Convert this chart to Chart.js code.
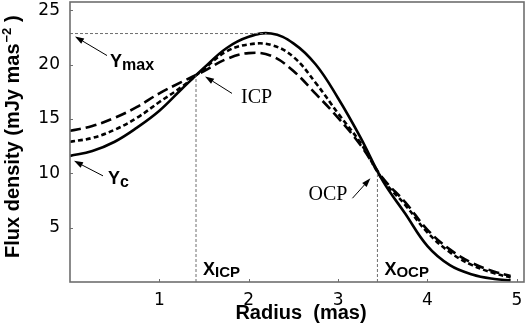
<!DOCTYPE html>
<html><head><meta charset="utf-8">
<script src="https://cdn.jsdelivr.net/npm/chart.js@4"></script>
<style>html,body{margin:0;padding:0;background:#fff;}</style>
</head><body>
<canvas id="c" width="526" height="332"></canvas>
<script>
// ---- data ----
const radius        = [0, 0.25, 0.5, 0.75, 1.0, 1.25, 1.5, 1.75, 2.0, 2.25, 2.5, 2.75, 3.0, 3.25, 3.5, 3.75, 4.0, 4.25, 4.5, 4.75, 4.93];
const fluxSolid     = [11.6, 12.05, 12.9, 14.2, 15.75, 17.75, 19.7, 21.5, 22.55, 22.85, 21.95, 20.0, 16.9, 13.3, 9.3, 6.3, 3.3, 1.55, 0.7, 0.28, 0.15];
const fluxShortDash = [12.9, 13.25, 14.0, 15.1, 16.55, 17.95, 19.6, 21.2, 21.85, 21.8, 20.7, 18.3, 15.5, 12.8, 9.4, 7.1, 4.55, 2.75, 1.55, 0.8, 0.42];
const fluxLongDash  = [13.9, 14.35, 15.1, 16.1, 17.35, 18.4, 19.4, 20.5, 21.05, 20.8, 19.4, 17.3, 15.1, 12.6, 9.55, 7.35, 4.8, 3.0, 1.75, 0.95, 0.55];
const xTickValues = [1, 2, 3, 4, 5];
const yTickValues = [5, 10, 15, 20, 25];
const yMaxPoint = [2.2, 22.85];   // peak of solid curve
const yCValue = 11.6;             // central value of solid curve
const icpPoint = [1.41, 19.0];    // inner crossing point
const ocpPoint = [3.44, 10.0];    // outer crossing point

const pts = (ys) => radius.map((x, i) => ({x, y: ys[i]}));
const GRAY = '#6e6e6e';

const decor = {
  id: 'decor',
  afterDraw(chart) {
    const {ctx, chartArea: a, scales: {x, y}} = chart;
    ctx.save();
    // frame
    ctx.strokeStyle = GRAY; ctx.lineWidth = 1.6;
    ctx.strokeRect(a.left, a.top, a.right - a.left, a.bottom - a.top);
    // inward ticks
    ctx.lineWidth = 1;
    xTickValues.forEach(v => { const px = Math.round(x.getPixelForValue(v)) + 0.5;
      ctx.beginPath(); ctx.moveTo(px, a.bottom); ctx.lineTo(px, a.bottom - 3); ctx.stroke(); });
    yTickValues.forEach(v => { const py = Math.round(y.getPixelForValue(v)) + 0.5;
      ctx.beginPath(); ctx.moveTo(a.left, py); ctx.lineTo(a.left + 3, py); ctx.stroke(); });

    const P = (p) => [x.getPixelForValue(p[0]), y.getPixelForValue(p[1])];
    const arrow = (x0, y0, x1, y1) => {
      ctx.strokeStyle = '#000'; ctx.fillStyle = '#000'; ctx.lineWidth = 1;
      const ang = Math.atan2(y1 - y0, x1 - x0), L = 9, W = 3;
      const bx = x1 - L * Math.cos(ang), by = y1 - L * Math.sin(ang);
      ctx.beginPath(); ctx.moveTo(x0, y0); ctx.lineTo(bx, by); ctx.stroke();
      ctx.beginPath(); ctx.moveTo(x1, y1);
      ctx.lineTo(bx + W * Math.sin(ang), by - W * Math.cos(ang));
      ctx.lineTo(bx - W * Math.sin(ang), by + W * Math.cos(ang));
      ctx.closePath(); ctx.fill();
    };
    const sub = (main, s, lx, by, mainSize, subSize, drop) => {
      ctx.fillStyle = '#000'; ctx.textAlign = 'left'; ctx.textBaseline = 'alphabetic';
      ctx.font = `bold ${mainSize}px "Liberation Sans", Arial, sans-serif`;
      ctx.fillText(main, lx, by);
      const w = ctx.measureText(main).width;
      ctx.font = `bold ${subSize}px "Liberation Sans", Arial, sans-serif`;
      ctx.fillText(s, lx + w, by + drop);
    };

    // Ymax
    const ym = [a.left, y.getPixelForValue(yMaxPoint[1])];
    arrow(ym[0] + 37, ym[1] + 22, ym[0] + 5, ym[1] + 3);
    sub('Y', 'max', ym[0] + 40, ym[1] + 33, 18, 16, 3);
    // Yc
    const yc = [a.left, y.getPixelForValue(yCValue)];
    arrow(yc[0] + 33, yc[1] + 20, yc[0] + 4, yc[1] + 5);
    sub('Y', 'c', yc[0] + 38, yc[1] + 28, 18, 16, 3);
    // ICP
    const ic = P(icpPoint);
    arrow(ic[0] + 36, ic[1] + 18, ic[0] + 9, ic[1] + 1);
    ctx.font = '20px "Liberation Serif", "Times New Roman", serif';
    ctx.textAlign = 'left'; ctx.textBaseline = 'alphabetic';
    ctx.fillText('ICP', ic[0] + 45, ic[1] + 28);
    // OCP
    const oc = P(ocpPoint);
    arrow(oc[0] - 25, oc[1] + 25, oc[0] - 7, oc[1] + 5);
    ctx.font = '20px "Liberation Serif", "Times New Roman", serif';
    ctx.fillText('OCP', oc[0] - 69, oc[1] + 27);
    // X labels
    sub('X', 'ICP', ic[0] + 7, a.bottom - 7, 18, 15, 2);
    sub('X', 'OCP', oc[0] + 7, a.bottom - 7, 18, 15, 2);

    // axis titles
    ctx.fillStyle = '#000';
    ctx.font = 'bold 20px "Liberation Sans", Arial, sans-serif';
    ctx.textAlign = 'center'; ctx.textBaseline = 'alphabetic';
    ctx.fillText('Radius  (mas)', 301, 319);

    ctx.save();
    ctx.translate(13, 258); ctx.rotate(-Math.PI / 2);
    ctx.textAlign = 'left'; ctx.textBaseline = 'middle';
    ctx.font = 'bold 20px "Liberation Sans", Arial, sans-serif';
    const t1 = 'Flux density (mJy mas';
    ctx.fillText(t1, 0, 0);
    let w = ctx.measureText(t1).width;
    ctx.font = 'bold 13px "Liberation Sans", Arial, sans-serif';
    ctx.fillText('\u22122', w + 1, -6);
    w += ctx.measureText('\u22122').width + 1;
    ctx.font = 'bold 20px "Liberation Sans", Arial, sans-serif';
    ctx.fillText(' )', w, 0);
    ctx.restore();
    ctx.restore();
  }
};

const refStyle = {borderColor: GRAY, borderWidth: 1, borderDash: [3, 2], pointRadius: 0, tension: 0, fill: false};

new Chart(document.getElementById('c'), {
  type: 'line',
  data: {
    datasets: [
      {data: [{x: 0, y: yMaxPoint[1]}, {x: yMaxPoint[0], y: yMaxPoint[1]}], ...refStyle},
      {data: [{x: icpPoint[0], y: 0}, {x: icpPoint[0], y: icpPoint[1]}], ...refStyle},
      {data: [{x: ocpPoint[0], y: 0}, {x: ocpPoint[0], y: ocpPoint[1]}], ...refStyle},
      {data: pts(fluxLongDash), borderColor: '#000', borderWidth: 2.6, borderDash: [11, 5], tension: 0.4, pointRadius: 0, fill: false},
      {data: pts(fluxShortDash), borderColor: '#000', borderWidth: 2.6, borderDash: [5, 3], tension: 0.4, pointRadius: 0, fill: false},
      {data: pts(fluxSolid), borderColor: '#000', borderWidth: 2.6, tension: 0.4, pointRadius: 0, fill: false}
    ]
  },
  options: {
    responsive: false, animation: false, devicePixelRatio: 1,
    layout: {padding: {top: 2, right: 2, left: 0, bottom: 0}},
    plugins: {legend: {display: false}, tooltip: {enabled: false}},
    scales: {
      x: {
        type: 'linear', min: 0, max: 5.08,
        afterFit(s) { s.height = 50; s.paddingLeft = 0; s.paddingRight = 0; },
        afterBuildTicks(s) { s.ticks = xTickValues.map(v => ({value: v})); },
        grid: {display: false, drawTicks: false}, border: {display: false},
        ticks: {padding: 8, color: '#000', font: {family: 'DejaVu Sans', size: 17}, maxRotation: 0, autoSkip: false}
      },
      y: {
        type: 'linear', min: 0, max: 25.75,
        afterFit(s) { s.width = 70; s.paddingTop = 0; s.paddingBottom = 0; },
        afterBuildTicks(s) { s.ticks = yTickValues.map(v => ({value: v})); },
        grid: {display: false, drawTicks: false}, border: {display: false},
        ticks: {padding: 10, color: '#000', font: {family: 'DejaVu Sans', size: 17}, autoSkip: false}
      }
    }
  },
  plugins: [decor]
});
</script>
</body></html>
